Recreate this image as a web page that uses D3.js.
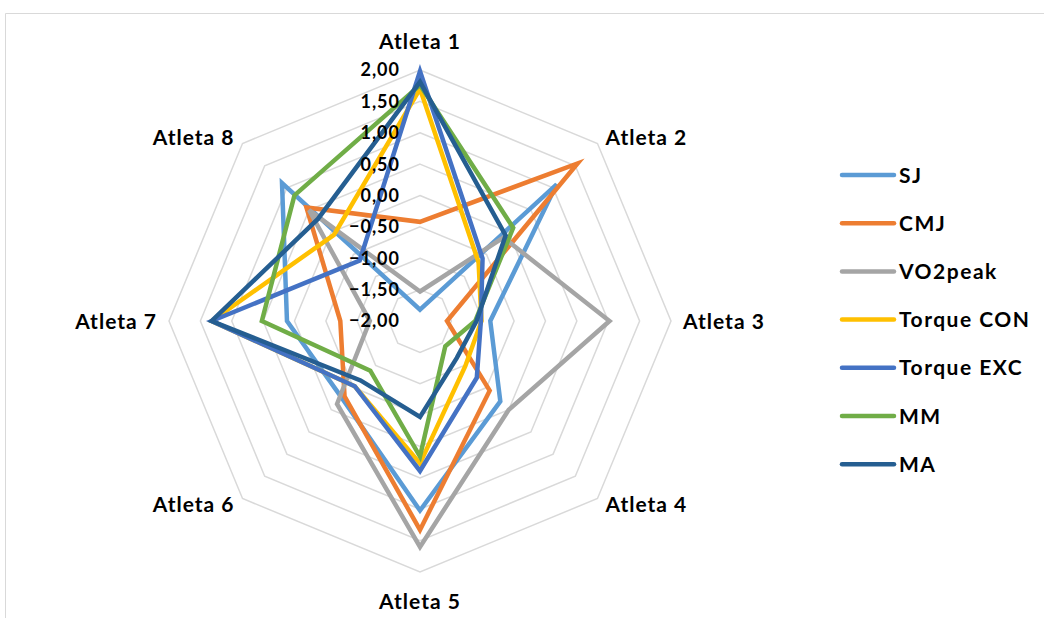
<!DOCTYPE html>
<html>
<head>
<meta charset="utf-8">
<script src="https://cdn.jsdelivr.net/npm/d3@7"></script>
<style>
  body { margin: 0; background: #fff; }
  svg { display: block; }
  text { font-family: Lato, "Open Sans", sans-serif; font-weight: bold; fill: #000; }
</style>
</head>
<body>
<svg id="chart" width="1044" height="618"></svg>
<script>
// categories (axes of the radar)
var athletes = ["Atleta 1", "Atleta 2", "Atleta 3", "Atleta 4", "Atleta 5", "Atleta 6", "Atleta 7", "Atleta 8"];

// series names + colours
var seriesNames = ["SJ", "CMJ", "VO2peak", "Torque CON", "Torque EXC", "MM", "MA"];
var seriesColors = ["#5B9BD5", "#ED7D31", "#A5A5A5", "#FFC000", "#4472C4", "#70AD47", "#255E91"];

// values per series, one per athlete (z-scores)
var sj        = [-1.82,  1.08, -0.88, -0.19, 1.02, -0.25,  0.12,  1.11];
var cmj       = [-0.42,  1.55, -1.57, -0.43, 1.33, -0.30, -0.73,  0.56];
var vo2peak   = [-1.53, -0.12,  1.02,  0.00, 1.60, -0.13, -1.20,  0.50];
var torqueCon = [ 1.70, -0.68, -1.02, -0.98, 0.27, -0.53,  1.32, -0.06];
var torqueExc = [ 1.98, -0.59, -1.03, -0.72, 0.39, -0.53,  1.32, -0.64];
var mm        = [ 1.76,  0.10, -1.12, -1.43, 0.16, -0.88,  0.52,  0.83];
var ma        = [ 1.81, -0.07, -1.10, -1.17, -0.47, -0.66, 1.32,  0.30];

// axis ticks
var tickValues = [-2, -1.5, -1, -0.5, 0, 0.5, 1, 1.5, 2];

var allSeries = [sj, cmj, vo2peak, torqueCon, torqueExc, mm, ma];

var svg = d3.select("#chart");
var cx = 420, cy = 321, R = 251;

// chart area border (only top and left visible)
svg.append("path")
	.attr("d", "M5.5,618 L5.5,13.5 L1044,13.5")
	.attr("fill", "none")
	.attr("stroke", "#D9D9D9")
	.attr("stroke-width", 1);

var rScale = d3.scaleLinear().domain([-2, 2]).range([0, R]);
var angle = d3.scaleLinear().domain([0, athletes.length]).range([0, 2 * Math.PI]);

var locale = d3.formatLocale({ decimal: ",", thousands: ".", grouping: [3], currency: ["", ""] });
var fmt = locale.format(".2f");

var g = svg.append("g").attr("transform", "translate(" + cx + "," + cy + ")");

function pt(i, v) {
	var a = angle(i);
	var r = rScale(v);
	return [r * Math.sin(a), -r * Math.cos(a)];
}

// grid rings
var radial = d3.lineRadial()
	.angle(function (d, i) { return angle(i); })
	.radius(function (d) { return rScale(d); })
	.curve(d3.curveLinearClosed);

tickValues.slice(1).forEach(function (t) {
	g.append("path")
		.attr("d", radial(athletes.map(function () { return t; })))
		.attr("fill", "none")
		.attr("stroke", "#D9D9D9")
		.attr("stroke-width", 1.5);
});

// series lines
allSeries.forEach(function (vals, k) {
	g.append("path")
		.attr("d", radial(vals))
		.attr("fill", "none")
		.attr("stroke", seriesColors[k])
		.attr("stroke-width", 4.5)
		.attr("stroke-linejoin", "miter");
});

// value axis labels
tickValues.forEach(function (t) {
	g.append("text")
		.attr("x", -20)
		.attr("y", -rScale(t))
		.attr("dy", "0.36em")
		.attr("text-anchor", "end")
		.style("font-size", "18px")
		.style("letter-spacing", "1px")
		.text(fmt(t));
});

// category labels
athletes.forEach(function (name, i) {
	var p = pt(i, 2);
	var a = angle(i);
	var sx = Math.sin(a), sy = -Math.cos(a);
	var anchor = Math.abs(sx) < 0.01 ? "middle" : (sx > 0 ? "start" : "end");
	var x = p[0] + sx * 12;
	var y = p[1] + sy * 12;
	if (Math.abs(sx) < 0.01) {
		y = p[1] + sy * 29;
	} else if (Math.abs(sy) > 0.01) {
		x = p[0] + (sx > 0 ? 8 : -8);
		y = p[1] + sy * 9;
	}
	g.append("text")
		.attr("x", x)
		.attr("y", y)
		.attr("dy", "0.36em")
		.attr("text-anchor", anchor)
		.style("font-size", "21px")
		.style("letter-spacing", "1px")
		.text(name);
});

// legend
var legend = svg.append("g").attr("transform", "translate(840,175)");
seriesNames.forEach(function (name, k) {
	var row = legend.append("g").attr("transform", "translate(0," + (k * 48.2) + ")");
	row.append("line")
		.attr("x1", 2).attr("x2", 54)
		.attr("stroke", seriesColors[k])
		.attr("stroke-width", 4.5)
		.attr("stroke-linecap", "round");
	row.append("text")
		.attr("x", 59)
		.attr("dy", "0.36em")
		.style("font-size", "21px")
		.style("letter-spacing", "1.5px")
		.text(name);
});
</script>
</body>
</html>
